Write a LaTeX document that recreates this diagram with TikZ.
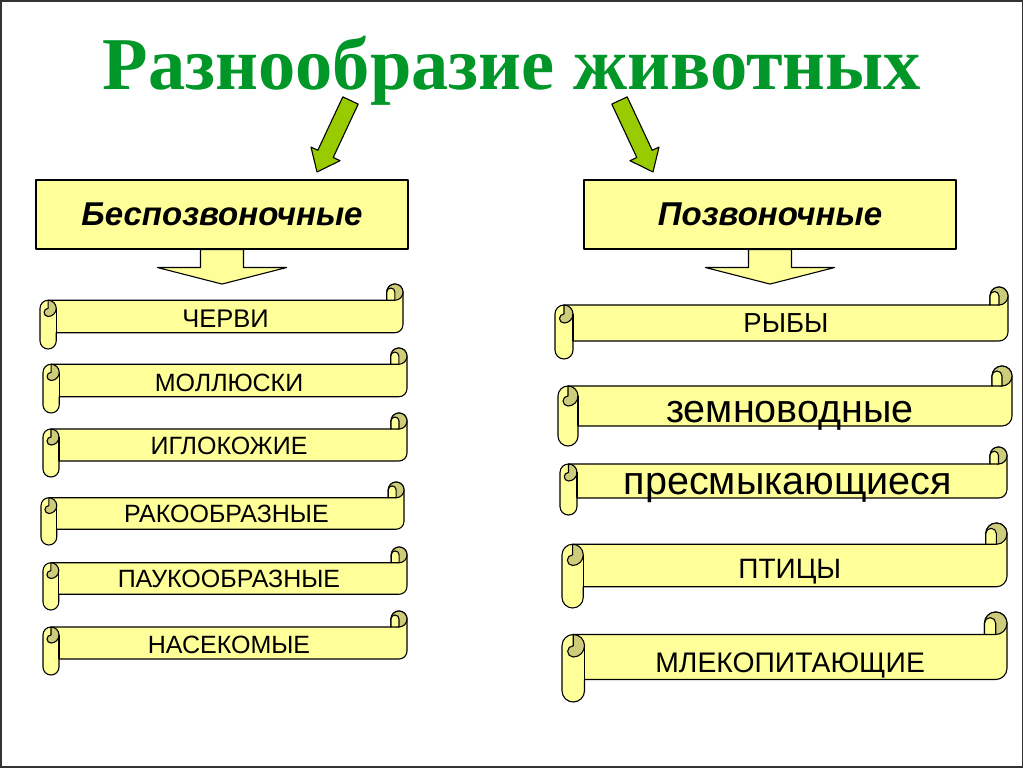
\documentclass[tikz,border=0pt]{standalone}
\usepackage{fontspec}
\setmainfont{Liberation Sans}
\newfontfamily\titlefont{Liberation Serif}
\usetikzlibrary{calc}
\definecolor{paper}{RGB}{255,255,153}
\definecolor{rolldark}{RGB}{204,204,122}
\definecolor{titlegreen}{RGB}{0,150,40}
\definecolor{arrowgreen}{RGB}{153,204,0}
\tikzset{
  outl/.style={draw=black, line width=1.1pt, line join=round},
  paperfill/.style={outl, fill=paper},
  darkfill/.style={outl, fill=rolldark},
  catbox/.style={paperfill, rectangle, minimum width=372pt, minimum height=69pt, inner sep=0pt,
    font=\bfseries\itshape\fontsize{33}{33}\selectfont},
  greenarrow/.style={outl, fill=arrowgreen},
}
% #1 name, #2 L, #3 T, #4 R, #5 B (screen px), #6 font size, #7 baseline (screen), #8 text
\newcommand{\scrollbox}[8]{%
  \pgfmathsetmacro\scrL{#2}%
  \pgfmathsetmacro\scrR{#4}%
  \pgfmathsetmacro\scrT{768-#3}%
  \pgfmathsetmacro\scrB{768-#5}%
  \pgfmathsetmacro\scrC{(\scrT-\scrB)/4}%
  \pgfmathsetmacro\scrH{\scrC/2}%
  \pgfmathsetmacro\scrQ{\scrC/4}%
  \pgfmathsetmacro\scrYt{\scrT-\scrC}%
  \pgfmathsetmacro\scrYb{\scrB+\scrC}%
  \path[paperfill] (\scrL,\scrYt-\scrH) arc[start angle=180,end angle=90,radius=\scrH pt]
    -- (\scrR-\scrC,\scrYt) -- (\scrR-\scrC,\scrT-\scrH)
    arc[start angle=180,end angle=0,radius=\scrH pt]
    -- (\scrR,\scrYb+\scrH) arc[start angle=0,end angle=-90,radius=\scrH pt]
    -- (\scrL+\scrC,\scrYb) -- (\scrL+\scrC,\scrB+\scrH)
    arc[start angle=0,end angle=-180,radius=\scrH pt] -- cycle;
  \path[darkfill] (\scrR-\scrH,\scrT-\scrH) circle[radius=\scrH pt];
  \path[paperfill] (\scrR-\scrC,\scrYt) -- (\scrR-\scrC,\scrT-\scrH)
    arc[start angle=180,end angle=0,radius=\scrQ pt] -- (\scrR-\scrH,\scrYt) -- cycle;
  \path[darkfill] (\scrL+\scrH,\scrYt) arc[start angle=90,end angle=-90,radius=\scrH pt]
    arc[start angle=-90,end angle=-270,radius=\scrQ pt] -- cycle;
  \draw[outl] (\scrL+\scrC,\scrYt-\scrH) -- (\scrL+\scrC,\scrYb);
  \node[anchor=base, inner sep=0pt, font=\fontsize{#6}{#6}\selectfont] (#1)
    at ({(\scrL+\scrC+\scrR-\scrH)/2},{768-#7}) {#8};
}
\begin{document}
\begin{tikzpicture}[x=1pt,y=1pt]
\useasboundingbox (0,0) rectangle (1024,768);
\fill[white] (0,0) rectangle (1024,768);
\draw[line width=1.6pt, black!80] (0.8,0.8) rectangle (1022.4,767.2);

% title
\node[anchor=base, inner sep=0pt, text=titlegreen,
  font=\titlefont\bfseries\fontsize{74.5}{74.5}\selectfont] (title) at (512,768-90) {Разнообразие животных};

% green arrows
\path[greenarrow] (342.8,768-96.9) -- (358.2,768-104.1) -- (333.2,768-157.5) -- (340,768-160.7)
  -- (317,768-172) -- (311,768-147.1) -- (317.8,768-150.3) -- cycle;
\path[greenarrow] (627.2,768-96.9) -- (611.8,768-104.1) -- (636.8,768-157.5) -- (630,768-160.7)
  -- (653,768-172) -- (659,768-147.1) -- (652.2,768-150.3) -- cycle;

% category boxes
\node[catbox] (inv) at (222,768-214.5) {Беспозвоночные};
\node[catbox] (vert) at (770,768-214.5) {Позвоночные};

% yellow block arrows
\foreach \b in {inv,vert}{
  \path[paperfill] ($(\b.south)+(-21.5,0)$) -- ++(0,-18) -- ++(-43,0) -- ($(\b.south)+(0,-34.5)$)
    -- ($(\b.south)+(64.5,-18)$) -- ++(-43,0) -- ($(\b.south)+(21.5,0)$) -- cycle;
}

% left scrolls
\scrollbox{s1}{40}{284}{403}{349}{25.5}{328}{ЧЕРВИ}
\scrollbox{s2}{43}{348}{407}{413}{25}{392}{МОЛЛЮСКИ}
\scrollbox{s3}{43}{413}{407}{477}{25}{455}{ИГЛОКОЖИЕ}
\scrollbox{s4}{41}{482}{404}{545}{25}{523}{РАКООБРАЗНЫЕ}
\scrollbox{s5}{43}{547}{407}{610}{25}{588}{ПАУКООБРАЗНЫЕ}
\scrollbox{s6}{43}{611}{407}{675}{25}{653}{НАСЕКОМЫЕ}

% right scrolls
\scrollbox{r1}{555}{287}{1008}{359}{27.5}{333}{РЫБЫ}
\scrollbox{r2}{558}{366}{1012}{446}{39.5}{423}{земноводные}
\scrollbox{r3}{560}{447}{1007}{515}{39.5}{495}{пресмыкающиеся}
\scrollbox{r4}{562}{523}{1007}{608}{28}{579}{ПТИЦЫ}
\scrollbox{r5}{562}{612}{1007}{702}{28.3}{672}{МЛЕКОПИТАЮЩИЕ}
\end{tikzpicture}
\end{document}
